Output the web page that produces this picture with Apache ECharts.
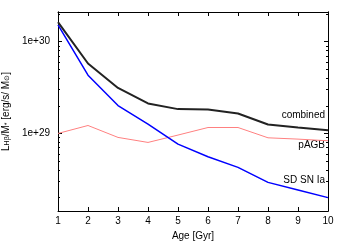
<!DOCTYPE html>
<html><head><meta charset="utf-8">
<script src="https://cdn.jsdelivr.net/npm/echarts@6/dist/echarts.min.js"></script>
<style>html,body{margin:0;padding:0;background:#fff}#c{width:346px;height:242px}</style>
</head><body><div id="c"></div>
<script>
const ages = [1,2,3,4,5,6,7,8,9,10];
const combined = [1.63e30,5.77e29,3.13e29,2.12e29,1.84e29,1.82e29,1.65e29,1.25e29,1.16e29,1.08e29];
const pAGB = [1.0e29,1.22e29,9.05e28,7.98e28,9.6e28,1.16e29,1.16e29,8.96e28,8.67e28,8.32e28];
const sdSNIa = [1.52e30,4.31e29,2.01e29,1.26e29,7.65e28,5.57e28,4.27e28,2.93e28,2.42e28,2.0e28];
const xTicks = [1,2,3,4,5,6,7,8,9,10];
const yMajor = [1e29,1e30];
const yMinor = [2e28,3e28,4e28,5e28,6e28,7e28,8e28,9e28,2e29,3e29,4e29,5e29,6e29,7e29,8e29,9e29,2e30];
const yMin = 1.43e28, yMax = 2.1e30;

const FONT = 'Liberation Sans';
const FS = 10;
const axisLine = {show:true, lineStyle:{color:'#000', width:1}};
const chart = echarts.init(document.getElementById('c'));
function pair(arr){ return ages.map((a,i)=>[a,arr[i]]); }
const yBase = {type:'log', min:yMin, max:yMax, splitLine:{show:false}, axisLine:axisLine};
chart.setOption({
  animation:false,
  grid:{left:58, right:18, top:12, bottom:31, containLabel:false, outerBoundsMode:'none'},
  xAxis:[
    {type:'value', min:1, max:10, interval:1, position:'bottom',
     axisLine:axisLine, splitLine:{show:false},
     axisTick:{inside:true, length:4, customValues:xTicks, lineStyle:{color:'#000'}},
     axisLabel:{color:'#000', fontFamily:FONT, fontSize:FS, margin:5, customValues:xTicks},
     name:'Age [Gyr]', nameLocation:'middle', nameGap:19,
     nameTextStyle:{color:'#000', fontFamily:FONT, fontSize:FS}},
    {type:'value', min:1, max:10, interval:1, position:'top',
     axisLine:axisLine, splitLine:{show:false},
     axisTick:{inside:true, length:4, lineStyle:{color:'#000'}},
     axisLabel:{show:false}}
  ],
  yAxis:[
    Object.assign({}, yBase, {position:'left',
     axisTick:{inside:true, length:4, customValues:yMajor, lineStyle:{color:'#000'}},
     axisLabel:{color:'#000', fontFamily:FONT, fontSize:FS, margin:8, customValues:yMajor,
       formatter:v=>'1e+'+Math.round(Math.log10(v))},
     name:'{a|L}{s|Hβ}{a|/M}{s|*}{a| [erg/s/ M}{s|⊙}{a|]}', nameLocation:'middle', nameGap:45, nameRotate:90,
     nameTextStyle:{rich:{a:{color:'#000', fontFamily:FONT, fontSize:FS},
                          s:{color:'#000', fontFamily:FONT, fontSize:7, verticalAlign:'bottom'}}}}),
    Object.assign({}, yBase, {position:'left',
     axisTick:{inside:true, length:2, customValues:yMinor, lineStyle:{color:'#000'}},
     axisLabel:{show:false}}),
    Object.assign({}, yBase, {position:'right',
     axisTick:{inside:true, length:4, customValues:yMajor, lineStyle:{color:'#000'}},
     axisLabel:{show:false}}),
    Object.assign({}, yBase, {position:'right',
     axisTick:{inside:true, length:2, customValues:yMinor, lineStyle:{color:'#000'}},
     axisLabel:{show:false}})
  ],
  graphic:[
    {type:'text', right:21, top:110, style:{text:'combined', fill:'#000', font:FS+'px "Liberation Sans"', align:'right'}},
    {type:'text', right:21, top:140, style:{text:'pAGB', fill:'#000', font:FS+'px "Liberation Sans"', align:'right'}},
    {type:'text', right:21, top:175, style:{text:'SD SN Ia', fill:'#000', font:FS+'px "Liberation Sans"', align:'right'}}
  ],
  series:[
    {type:'line', name:'pAGB', data:pair(pAGB), symbol:'none', lineStyle:{color:'#ff8080', width:1}},
    {type:'line', name:'SD SN Ia', data:pair(sdSNIa), symbol:'none', lineStyle:{color:'#0000ff', width:1.5}},
    {type:'line', name:'combined', data:pair(combined), symbol:'none', lineStyle:{color:'#222222', width:2}}
  ]
});
</script></body></html>
